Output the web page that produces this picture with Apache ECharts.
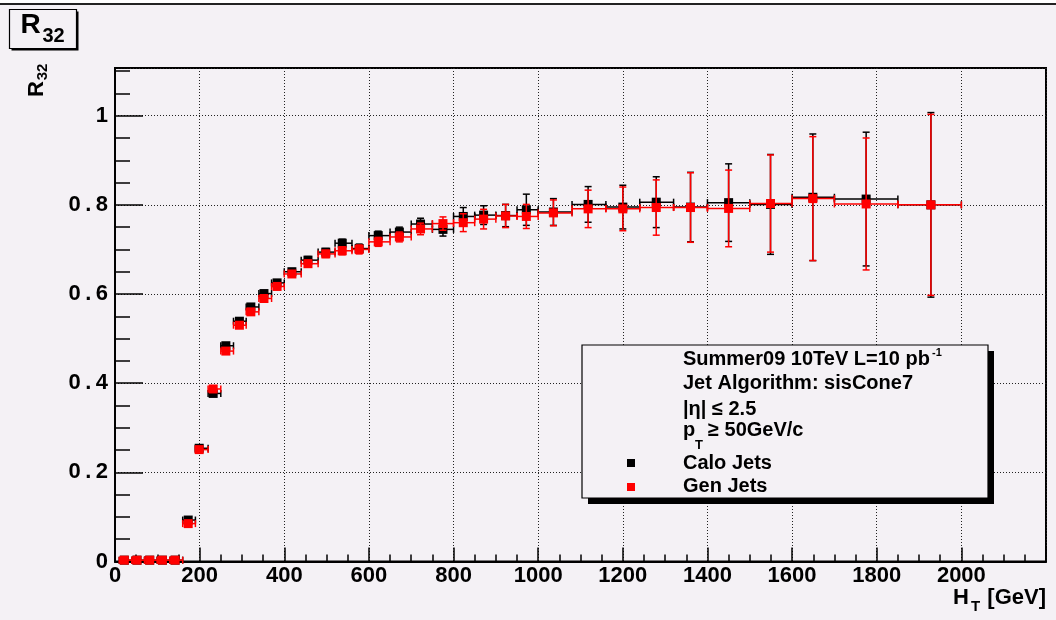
<!DOCTYPE html>
<html><head><meta charset="utf-8">
<script src="https://cdn.jsdelivr.net/npm/echarts@6/dist/echarts.min.js"></script>
<style>html,body{margin:0;padding:0;background:#f4f1f5;} #c{width:1056px;height:620px;}</style>
</head><body><div id="c"></div>
<script>
// ---- data ----
const htEdges = [10,40,70,100,130,160,190,220,250,280,310,340,370,400,440,480,520,560,600,650,700,750,800,850,900,950,1000,1080,1160,1240,1320,1400,1500,1600,1700,1850,2000];
const htMean  = [22,52,82,112,142,173,199,232,262,294,321,352,383,418,456,498,537,577,622,672,722,775,823,871,923,972,1036,1118,1200,1279,1360,1450,1549,1649,1775,1928];
const caloR32 = [0.003,0.003,0.003,0.003,0.003,0.093,0.254,0.377,0.484,0.539,0.571,0.601,0.625,0.650,0.676,0.694,0.714,0.702,0.731,0.739,0.757,0.745,0.774,0.777,0.776,0.789,0.784,0.801,0.795,0.806,0.795,0.805,0.801,0.817,0.813,0.800];
const caloErr = [0.001,0.001,0.001,0.001,0.001,0.004,0.004,0.005,0.005,0.006,0.006,0.007,0.007,0.007,0.008,0.008,0.009,0.010,0.010,0.011,0.013,0.015,0.020,0.021,0.025,0.035,0.030,0.040,0.049,0.057,0.078,0.087,0.112,0.142,0.150,0.207];
const genR32  = [0.003,0.003,0.003,0.003,0.003,0.085,0.251,0.387,0.472,0.530,0.560,0.590,0.617,0.645,0.668,0.690,0.697,0.700,0.717,0.728,0.746,0.758,0.760,0.768,0.775,0.774,0.782,0.791,0.791,0.794,0.794,0.792,0.803,0.814,0.802,0.800];
const genErr  = [0.001,0.001,0.001,0.001,0.001,0.004,0.004,0.005,0.005,0.006,0.006,0.007,0.007,0.007,0.008,0.008,0.009,0.010,0.010,0.011,0.013,0.015,0.020,0.022,0.026,0.027,0.029,0.042,0.049,0.062,0.078,0.086,0.109,0.139,0.148,0.203];
const legendLines = ['Summer09 10TeV L=10 pb', 'Jet Algorithm: sisCone7', '|η| ≤ 2.5', 'p', 'Calo Jets', 'Gen Jets'];

const FF = '"Liberation Sans", Arial, Helvetica, sans-serif';
const BG = '#f4f1f5';

function errSeries(name, color, ys, es, z) {
  return {
    type: 'custom', name: name, z: z, silent: true, clip: false,
    data: htMean.map((x, i) => [x, ys[i], htEdges[i], htEdges[i + 1], ys[i] - es[i], ys[i] + es[i]]),
    encode: { x: 0, y: 1 },
    renderItem: function (params, api) {
      const c = api.coord([api.value(0), api.value(1)]);
      const xl = api.coord([api.value(2), api.value(1)])[0];
      const xr = api.coord([api.value(3), api.value(1)])[0];
      const yb = api.coord([api.value(0), api.value(4)])[1];
      const yt = api.coord([api.value(0), api.value(5)])[1];
      const k = 3.5;
      const st = { stroke: color, lineWidth: 1.5 };
      const L = (x1, y1, x2, y2) => ({ type: 'line', shape: { x1, y1, x2, y2 }, style: st });
      return { type: 'group', children: [
        L(xl, c[1], xr, c[1]), L(xl, c[1] - k, xl, c[1] + k), L(xr, c[1] - k, xr, c[1] + k),
        L(c[0], yt, c[0], yb), L(c[0] - k, yt, c[0] + k, yt), L(c[0] - k, yb, c[0] + k, yb)
      ] };
    }
  };
}
function markerSeries(name, color, ys, z) {
  return { type: 'scatter', name: name, z: z, symbol: 'rect', symbolSize: 9, silent: true,
    itemStyle: { color: color, opacity: 1 }, data: htMean.map((x, i) => [x, ys[i]]) };
}
function txt(text, x, y, size, opts) {
  opts = opts || {};
  return { type: 'text', x: x, y: y, z: 101, rotation: opts.rot || 0,
    style: { text: text, font: (opts.weight || 'bold') + ' ' + size + 'px ' + FF, fill: '#000',
      align: opts.align || 'left', verticalAlign: 'middle' } };
}

const chart = echarts.init(document.getElementById('c'), null, { renderer: 'canvas' });
const yFmt = v => (Math.abs(v / 0.2 - Math.round(v / 0.2)) < 1e-6 ? String(+v.toFixed(1)).replace('.', '\u2009.\u2009') : '');
const xFmt = v => String(Math.round(v));
chart.setOption({
  backgroundColor: BG,
  animation: false,
  grid: { left: 115, top: 68, right: 10, bottom: 58.5, show: true, borderColor: '#000', borderWidth: 2, backgroundColor: 'transparent' },
  xAxis: [{
    type: 'value', min: 0, max: 2200, interval: 200,
    axisLine: { show: true, onZero: false, lineStyle: { color: '#000', width: 2 } },
    axisTick: { show: true, inside: true, length: 14, lineStyle: { color: '#000', width: 1.5 } },
    minorTick: { show: true, splitNumber: 4, length: 7, lineStyle: { color: '#000', width: 1.5 } },
    splitLine: { show: true, lineStyle: { color: '#222', width: 1, type: [1, 2] } },
    axisLabel: { show: true, margin: 3, showMaxLabel: false, formatter: xFmt, color: '#000', fontFamily: FF, fontWeight: 'bold', fontSize: 22 }
  }],
  yAxis: [{
    type: 'value', min: 0, max: 1.107, interval: 0.2, position: 'left',
    axisLine: { show: true, onZero: false, lineStyle: { color: '#000', width: 2 } },
    axisTick: { show: true, inside: true, length: 28, lineStyle: { color: '#000', width: 1.5 } },
    splitLine: { show: true, lineStyle: { color: '#222', width: 1, type: [1, 2] } },
    axisLabel: { show: true, margin: 7, showMaxLabel: false, formatter: yFmt, color: '#000', fontFamily: FF, fontWeight: 'bold', fontSize: 22 }
  }, {
    type: 'value', min: 0, max: 1.107, interval: 0.05, position: 'left', offset: 0,
    axisLine: { show: false },
    axisTick: { show: true, inside: true, length: 15, lineStyle: { color: '#000', width: 1.5 } },
    splitLine: { show: false },
    axisLabel: { show: false }
  }],
  series: [
    errSeries('Calo Jets err', '#000000', caloR32, caloErr, 3),
    markerSeries('Calo Jets', '#000000', caloR32, 4),
    errSeries('Gen Jets err', '#ff0000', genR32, genErr, 5),
    markerSeries('Gen Jets', '#ff0000', genR32, 6)
  ],
  graphic: { elements: [
    // top border of the canvas
    { type: 'rect', z: 100, shape: { x: 0, y: 0, width: 1056, height: 3 }, style: { fill: '#ffffff' } },
    { type: 'rect', z: 100, shape: { x: 0, y: 3, width: 1056, height: 2 }, style: { fill: '#222' } },
    // title box
    { type: 'rect', z: 100, shape: { x: 11.5, y: 11.5, width: 67, height: 39 }, style: { fill: '#000' } },
    { type: 'rect', z: 100, shape: { x: 9.5, y: 9.5, width: 67, height: 39 }, style: { fill: BG, stroke: '#000', lineWidth: 1.2 } },
    txt('R', 20.5, 25.5, 28),
    txt('32', 42.5, 36.5, 20),
    // y axis title
    txt('R', 36.5, 89, 22, { rot: Math.PI / 2, align: 'center' }),
    txt('32', 43, 72, 15, { rot: Math.PI / 2, align: 'center' }),
    // x axis title
    txt('H', 953, 597.5, 22),
    txt('T', 971, 607, 15),
    txt('[GeV]', 1046, 597.5, 22, { align: 'right' }),
    // legend box
    { type: 'rect', z: 100, shape: { x: 588, y: 351, width: 406, height: 153 }, style: { fill: '#000' } },
    { type: 'rect', z: 100, shape: { x: 582, y: 345, width: 406, height: 153 }, style: { fill: BG, stroke: '#000', lineWidth: 1.2 } },
    txt(legendLines[0], 683, 359.5, 20),
    txt('-1', 932, 353, 11),
    txt(legendLines[1], 683, 383.5, 20),
    txt(legendLines[2], 683, 409, 20),
    txt(legendLines[3], 683, 430, 20),
    txt('T', 695, 445, 13),
    txt('≥ 50GeV/c', 708, 430, 20),
    { type: 'rect', z: 101, shape: { x: 627, y: 459, width: 8, height: 8 }, style: { fill: '#000' } },
    txt(legendLines[4], 683, 463, 20),
    { type: 'rect', z: 101, shape: { x: 627, y: 483, width: 8, height: 8 }, style: { fill: '#ff0000' } },
    txt(legendLines[5], 683, 486.5, 20)
  ] }
});
</script>
</body></html>
